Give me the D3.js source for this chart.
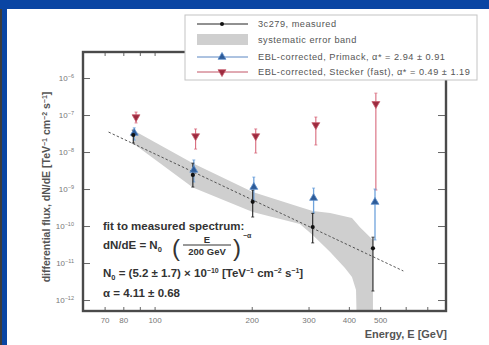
<!DOCTYPE html>
<html><head><meta charset="utf-8">
<script src="https://cdn.jsdelivr.net/npm/d3@7"></script>
<style>body{margin:0;background:#fff}svg{display:block}text{font-family:"Liberation Sans",Arial,sans-serif}</style>
</head><body>
<script>
// 3C 279 differential spectrum, energies in GeV, flux in TeV^-1 cm^-2 s^-1
const measE  = [85.9, 131.4, 201.4, 309, 475];
const measF  = [2.88e-8, 2.4e-9, 4.5e-10, 9.4e-11, 2.5e-11];
const measHi = [3.9e-8, 5.0e-9, 9.4e-10, 2.2e-10, 5.0e-11];
const measLo = [1.75e-8, 1.13e-9, 1.75e-10, 3.5e-11, 1.75e-12];

const primE  = [86.5, 132.3, 203, 311, 482];
const primF  = [3.27e-8, 3.27e-9, 1.13e-9, 5.7e-10, 4.45e-10];
const primHi = [4.5e-8, 6.1e-9, 2.1e-9, 1.06e-9, 1.0e-9];
const primLo = [2.1e-8, 1.55e-9, 5.0e-10, 2.25e-10, 4.2e-11];

const steckE  = [87.6, 134, 205.8, 316, 485];
const steckF  = [8.8e-8, 2.7e-8, 2.7e-8, 5.4e-8, 2.0e-7];
const steckHi = [1.2e-7, 4.2e-8, 4.2e-8, 8.8e-8, 3.9e-7];
const steckLo = [6.1e-8, 1.2e-8, 9.4e-9, 1.55e-8, 9.4e-10];

// systematic error band edges
const bandUpE = [85.9, 131.4, 201.4, 282, 309, 350, 409, 433, 475, 475];
const bandUpF = [3.9e-8, 5.0e-9, 8.3e-10, 3.27e-10, 2.54e-10, 2.25e-10, 1.64e-10, 9.3e-11, 4.2e-11, 1e-13];
const bandLoE = [85.9, 131.4, 201.4, 282, 309, 350, 389, 409, 421, 424];
const bandLoF = [1.7e-8, 1.1e-9, 2.4e-10, 1.13e-10, 5.7e-11, 1.98e-11, 7.3e-12, 4.2e-12, 1.86e-12, 1e-13];

// power-law fit: dN/dE = N0 (E/200 GeV)^-alpha
const fitN0 = 5.2e-10, fitAlpha = 4.11, fitRange = [72, 590];

const yTicks = [1e-6, 1e-7, 1e-8, 1e-9, 1e-10, 1e-11, 1e-12];
const yTickExp = ["−6", "−7", "−8", "−9", "−10", "−11", "−12"];
const xTicks = [70, 80, 90, 100, 200, 300, 400, 500, 600, 700];
const xLabels = [70, 80, 100, 200, 300, 400, 500];

const W = 489, H = 345;
const svg = d3.select("body").append("svg").attr("width", W).attr("height", H);

// slide frame
svg.append("rect").attr("width", W).attr("height", H).attr("fill", "#0a45a3");
svg.append("rect").attr("x", 7).attr("y", 9).attr("width", W - 7).attr("height", H - 9).attr("fill", "#fff");
svg.append("rect").attr("x", 0).attr("y", 9).attr("width", 2).attr("height", H - 9).attr("fill", "#3c3c3c");

const m = {l: 83, r: 446, t: 52, b: 311};
const x = d3.scaleLog().domain([60, 800]).range([m.l, m.r]);
const y = d3.scaleLog().domain([5.05e-13, 5.05e-6]).range([m.b, m.t]);

svg.append("clipPath").attr("id", "plot").append("rect")
  .attr("x", m.l).attr("y", m.t).attr("width", m.r - m.l).attr("height", m.b - m.t);
const g = svg.append("g").attr("clip-path", "url(#plot)");

// band
const bandPts = bandUpE.map((e, i) => [x(e), y(bandUpF[i])])
  .concat(bandLoE.map((e, i) => [x(e), y(bandLoF[i])]).reverse());
g.append("path").attr("d", d3.line()(bandPts) + "Z").attr("fill", "#cfcfcf");

// fit line
const fitPts = d3.range(0, 41).map(i => {
  const e = fitRange[0] * Math.pow(fitRange[1] / fitRange[0], i / 40);
  return [x(e), y(fitN0 * Math.pow(e / 200, -fitAlpha))];
});
g.append("path").attr("d", d3.line()(fitPts)).attr("fill", "none")
  .attr("stroke", "#444").attr("stroke-width", 0.9).attr("stroke-dasharray", "2.5,2");

function errorBars(E, hi, lo, color, w) {
  E.forEach((e, i) => {
    const xx = x(e);
    g.append("line").attr("x1", xx).attr("x2", xx).attr("y1", y(hi[i])).attr("y2", y(lo[i]))
      .attr("stroke", color).attr("stroke-width", w);
    [hi[i], lo[i]].forEach(v => g.append("line").attr("x1", xx - 1.5).attr("x2", xx + 1.5)
      .attr("y1", y(v)).attr("y2", y(v)).attr("stroke", color).attr("stroke-width", 0.8));
  });
}
errorBars(steckE, steckHi, steckLo, "#d86a7c", 1.1);
errorBars(primE, primHi, primLo, "#6fa3dc", 1.3);
errorBars(measE, measHi, measLo, "#222", 1.1);

const tri = d3.symbol().type(d3.symbolTriangle).size(27);
function markers(sel, E, F, kind) {
  E.forEach((e, i) => {
    if (kind === "dot") {
      sel.append("circle").attr("cx", x(e)).attr("cy", y(F[i])).attr("r", 2.1).attr("fill", "#111");
    } else if (kind === "up") {
      sel.append("path").attr("d", tri()).attr("transform", `translate(${x(e)},${y(F[i])})`)
        .attr("fill", "#2d5b98").attr("stroke", "#5e8fcc").attr("stroke-width", 0.8);
    } else {
      sel.append("path").attr("d", tri()).attr("transform", `translate(${x(e)},${y(F[i])}) rotate(180)`)
        .attr("fill", "#9c2a3e").attr("stroke", "#c65a6c").attr("stroke-width", 0.8);
    }
  });
}
markers(g, steckE, steckF, "down");
markers(g, primE, primF, "up");
markers(g, measE, measF, "dot");

// axes with inward ticks
function clean(a) { a.select(".domain").remove(); a.selectAll("line").attr("stroke", "#666"); }
const axL = svg.append("g").attr("transform", `translate(${m.l},0)`)
  .call(d3.axisLeft(y).tickValues(yTicks).tickSizeInner(-7).tickSizeOuter(0).tickPadding(9).tickFormat(() => ""));
clean(axL);
axL.selectAll(".tick text").each(function(d, i) {
  const t = d3.select(this).attr("font-size", 8).attr("fill", "#777").attr("font-family", "Liberation Sans, Arial, sans-serif");
  t.append("tspan").text("10");
  t.append("tspan").attr("dy", -3.5).attr("font-size", 5.5).text(yTickExp[i]);
});
const axR = svg.append("g").attr("transform", `translate(${m.r},0)`)
  .call(d3.axisRight(y).tickValues(yTicks).tickSizeInner(-8).tickSizeOuter(0).tickFormat(() => ""));
clean(axR);
const axB = svg.append("g").attr("transform", `translate(0,${m.b})`)
  .call(d3.axisBottom(x).tickValues(xTicks).tickSizeInner(-4).tickSizeOuter(0).tickPadding(6)
    .tickFormat(d => xLabels.includes(d) ? d : ""));
clean(axB);
axB.selectAll(".tick text").attr("font-size", 8).attr("fill", "#777").attr("font-family", "Liberation Sans, Arial, sans-serif");
const axT = svg.append("g").attr("transform", `translate(0,${m.t})`)
  .call(d3.axisTop(x).tickValues(xTicks).tickSizeInner(-4).tickSizeOuter(0).tickFormat(() => ""));
clean(axT);

// plot frame
svg.append("rect").attr("x", m.l).attr("y", m.t).attr("width", m.r - m.l).attr("height", m.b - m.t)
  .attr("fill", "none").attr("stroke", "#4a4a4a").attr("stroke-width", 2.4);

// axis titles
const yt = svg.append("text").attr("transform", "translate(50,187) rotate(-90)")
  .attr("text-anchor", "middle").attr("font-size", 10.5).attr("font-weight", "bold").attr("fill", "#555");
yt.append("tspan").text("differential flux, dN/dE [TeV");
yt.append("tspan").attr("dy", -3.5).attr("font-size", 7).text("−1");
yt.append("tspan").attr("dy", 3.5).text(" cm");
yt.append("tspan").attr("dy", -3.5).attr("font-size", 7).text("−2");
yt.append("tspan").attr("dy", 3.5).text(" s");
yt.append("tspan").attr("dy", -3.5).attr("font-size", 7).text("−1");
yt.append("tspan").attr("dy", 3.5).text("]");

svg.append("text").attr("x", m.r + 1).attr("y", 338).attr("text-anchor", "end")
  .attr("font-size", 11).attr("font-weight", "bold").attr("fill", "#555").text("Energy, E [GeV]");

// fit annotation
const ann = svg.append("g").attr("fill", "#333").attr("font-weight", "bold").attr("font-size", 11.5);
ann.append("text").attr("x", 103).attr("y", 230).text("fit to measured spectrum:");
const l2 = ann.append("text").attr("x", 103).attr("y", 249);
l2.append("tspan").text("dN/dE = N");
l2.append("tspan").attr("dy", 2.5).attr("font-size", 7.5).text("0");
ann.append("text").attr("x", 172).attr("y", 256).attr("font-size", 24).attr("font-weight", "normal").text("(");
ann.append("text").attr("x", 207).attr("y", 243).attr("text-anchor", "middle").attr("font-size", 9.5).text("E");
ann.append("line").attr("x1", 183).attr("x2", 231).attr("y1", 245).attr("y2", 245).attr("stroke", "#333").attr("stroke-width", 1);
ann.append("text").attr("x", 207).attr("y", 254.5).attr("text-anchor", "middle").attr("font-size", 9.5).text("200 GeV");
ann.append("text").attr("x", 233).attr("y", 256).attr("font-size", 24).attr("font-weight", "normal").text(")");
ann.append("text").attr("x", 243).attr("y", 238).attr("font-size", 7).text("−α");
const l3 = ann.append("text").attr("x", 103).attr("y", 277);
l3.append("tspan").text("N");
l3.append("tspan").attr("dy", 2.5).attr("font-size", 7.5).text("0");
l3.append("tspan").attr("dy", -2.5).text(" = (5.2 ± 1.7) × 10");
l3.append("tspan").attr("dy", -4.5).attr("font-size", 7).text("−10");
l3.append("tspan").attr("dy", 4.5).text(" [TeV");
l3.append("tspan").attr("dy", -4.5).attr("font-size", 7).text("−1");
l3.append("tspan").attr("dy", 4.5).text(" cm");
l3.append("tspan").attr("dy", -4.5).attr("font-size", 7).text("−2");
l3.append("tspan").attr("dy", 4.5).text(" s");
l3.append("tspan").attr("dy", -4.5).attr("font-size", 7).text("−1");
l3.append("tspan").attr("dy", 4.5).text("]");
ann.append("text").attr("x", 103).attr("y", 297).text("α = 4.11 ± 0.68");

// legend
const lg = svg.append("g");
lg.append("rect").attr("x", 185).attr("y", 15).attr("width", 292).attr("height", 65)
  .attr("fill", "#fff").attr("stroke", "#c4c4c4").attr("stroke-width", 1);
const rows = [
  {y: 24, label: "3c279, measured", color: "#222", kind: "dot"},
  {y: 40, label: "systematic error band", kind: "band"},
  {y: 57, label: "EBL-corrected,  Primack, α* = 2.94 ± 0.91", color: "#5a86c2", kind: "up"},
  {y: 72, label: "EBL-corrected, Stecker (fast), α* = 0.49 ± 1.19", color: "#c25466", kind: "down"}
];
rows.forEach(r => {
  if (r.kind === "band") {
    lg.append("rect").attr("x", 197).attr("y", r.y - 6).attr("width", 51).attr("height", 11).attr("fill", "#cfcfcf");
  } else {
    lg.append("line").attr("x1", 197).attr("x2", 248).attr("y1", r.y).attr("y2", r.y)
      .attr("stroke", r.color).attr("stroke-width", 1);
    if (r.kind === "dot") lg.append("circle").attr("cx", 222).attr("cy", r.y).attr("r", 2).attr("fill", "#111");
    if (r.kind === "up") lg.append("path").attr("d", tri()).attr("transform", `translate(222,${r.y})`)
      .attr("fill", "#2d5b98").attr("stroke", "#5e8fcc").attr("stroke-width", 0.8);
    if (r.kind === "down") lg.append("path").attr("d", tri()).attr("transform", `translate(222,${r.y}) rotate(180)`)
      .attr("fill", "#9c2a3e").attr("stroke", "#c65a6c").attr("stroke-width", 0.8);
  }
  lg.append("text").attr("x", 258).attr("y", r.y + 3).attr("font-size", 9.2).attr("letter-spacing", 0.5)
    .attr("fill", "#555").text(r.label);
});
</script>
</body></html>
